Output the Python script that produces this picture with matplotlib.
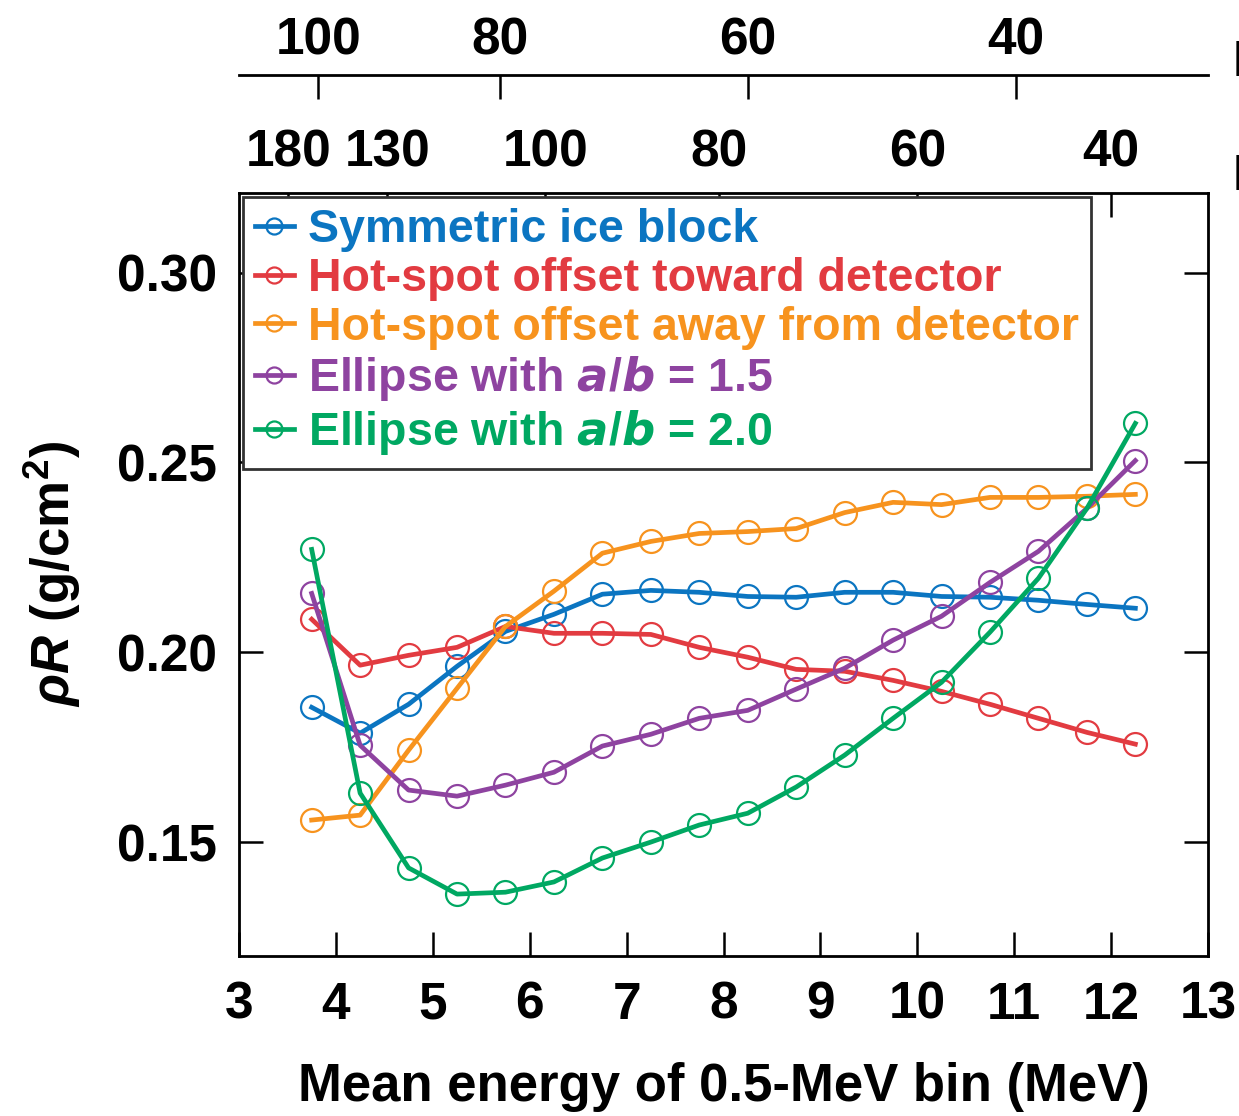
import numpy as np
import matplotlib.pyplot as plt

# energy bin centres (MeV)
energy = [3.75, 4.25, 4.75, 5.25, 5.75, 6.25, 6.75, 7.25, 7.75,
          8.25, 8.75, 9.25, 9.75, 10.25, 10.75, 11.25, 11.75, 12.25]

sym_ice = [0.1855, 0.1787, 0.1863, 0.1963, 0.2055, 0.2100, 0.2153, 0.2163, 0.2158,
           0.2147, 0.2145, 0.2158, 0.2158, 0.2147, 0.2145, 0.2137, 0.2126, 0.2116]
hot_toward = [0.2087, 0.1966, 0.1992, 0.2013, 0.2068, 0.2050, 0.2050, 0.2047, 0.2013,
              0.1987, 0.1955, 0.1950, 0.1926, 0.1897, 0.1863, 0.1826, 0.1789, 0.1758]
hot_away = [0.1558, 0.1571, 0.1742, 0.1905, 0.2068, 0.2161, 0.2261, 0.2292, 0.2313,
            0.2318, 0.2326, 0.2368, 0.2395, 0.2389, 0.2408, 0.2408, 0.2411, 0.2416]
ellipse_15 = [0.2155, 0.1755, 0.1637, 0.1621, 0.1650, 0.1684, 0.1753, 0.1784, 0.1826,
              0.1847, 0.1903, 0.1958, 0.2032, 0.2095, 0.2184, 0.2266, 0.2379, 0.2505]
ellipse_20 = [0.2271, 0.1629, 0.1432, 0.1363, 0.1368, 0.1395, 0.1458, 0.1500, 0.1545,
              0.1576, 0.1645, 0.1729, 0.1826, 0.1921, 0.2053, 0.2195, 0.2379, 0.2603]

labels = ['Symmetric ice block',
          'Hot-spot offset toward detector',
          'Hot-spot offset away from detector',
          r'Ellipse with $\boldsymbol{a/b}$ = 1.5',
          r'Ellipse with $\boldsymbol{a/b}$ = 2.0']
colors = ['#0b75c1', '#e23b41', '#f7931e', '#8e43a0', '#00a862']

# secondary scales (tick positions on the energy axis, labels)
top1_pos = [3.82, 5.69, 8.25, 11.02]
top1_lab = ['100', '80', '60', '40']
top2_pos = [3.51, 4.53, 6.16, 7.95, 10.0, 12.0]
top2_lab = ['180', '130', '100', '80', '60', '40']

plt.rcParams['font.family'] = ['Liberation Sans', 'DejaVu Sans']
plt.rcParams['font.weight'] = 'bold'
plt.rcParams['mathtext.fontset'] = 'custom'
plt.rcParams['mathtext.bf'] = 'Liberation Sans:bold'
plt.rcParams['mathtext.it'] = 'Liberation Sans:italic:bold'
plt.rcParams['mathtext.rm'] = 'Liberation Sans:bold'

fig = plt.figure(figsize=(12.39, 11.16), dpi=100)
L, B, W, H = 0.1929, 0.1434, 0.7821, 0.6837
ax = fig.add_axes([L, B, W, H])

series = [sym_ice, hot_toward, hot_away, ellipse_15, ellipse_20]
handles = []
for ys, c, lab in zip(series, colors, labels):
    h, = ax.plot(energy, ys, '-o', color=c, lw=3.4, ms=16.5, mfc='none', mec=c, mew=1.6, label=lab)
    handles.append(h)

ax.set_xlim(3, 13)
ax.set_ylim(0.12, 0.321)
ax.set_xticks(range(3, 14))
ax.set_yticks([0.15, 0.20, 0.25, 0.30])
ax.set_yticklabels(['0.15', '0.20', '0.25', '0.30'])
ax.tick_params(axis='both', direction='in', length=17, width=1.8, labelsize=37)
ax.tick_params(axis='y', right=True, left=True, pad=16)
ax.tick_params(axis='x', top=False, pad=18)
for s in ax.spines.values():
    s.set_linewidth(2)

ax.set_xlabel('Mean energy of 0.5-MeV bin (MeV)', fontsize=38, fontweight='bold', labelpad=23)
ax.set_ylabel(r'$\rho R$ (g/cm$^\mathbf{2}$)', fontsize=38, fontweight='bold', labelpad=24)

# second scale on top of the main axes
ax2 = ax.twiny()
ax2.set_xlim(ax.get_xlim())
ax2.set_xticks(top2_pos)
ax2.set_xticklabels(top2_lab)
ax2.tick_params(axis='x', direction='in', length=17, width=1.8, labelsize=37, pad=11)

leg = ax2.legend(handles, labels, loc='upper left', bbox_to_anchor=(0.004, 0.995), fontsize=33.5,
                 frameon=True, fancybox=False, edgecolor='#333333', framealpha=1,
                 handlelength=0.85, handletextpad=0.3, markerscale=0.7,
                 borderpad=0.25, labelspacing=0.1, borderaxespad=0.0)
leg.get_frame().set_linewidth(2)
for t, c in zip(leg.get_texts(), colors):
    t.set_color(c)
    t.set_fontweight('bold')

# uppermost scale, drawn as a separate line
ax3 = fig.add_axes([L, 1 - 75 / 1116, W, 0.0001])
ax3.set_xlim(ax.get_xlim())
ax3.set_ylim(0, 1)
for k in ['left', 'right', 'top']:
    ax3.spines[k].set_visible(False)
ax3.spines['bottom'].set_linewidth(2)
ax3.set_yticks([])
ax3.set_xticks(top1_pos)
ax3.set_xticklabels(top1_lab)
ax3.tick_params(axis='x', bottom=True, top=False, labelbottom=False, labeltop=True,
                direction='out', length=17, width=1.8, labelsize=37, pad=-10)
ax3.patch.set_visible(False)

# clipped labels at the right edge
fig.text(1233 / 1239, 1 - 76 / 1116, 'E', fontsize=36, fontweight='bold', va='baseline', ha='left')
fig.text(1233 / 1239, 1 - 190 / 1116, 'E', fontsize=36, fontweight='bold', va='baseline', ha='left')

fig.savefig('out.png', dpi=100)
